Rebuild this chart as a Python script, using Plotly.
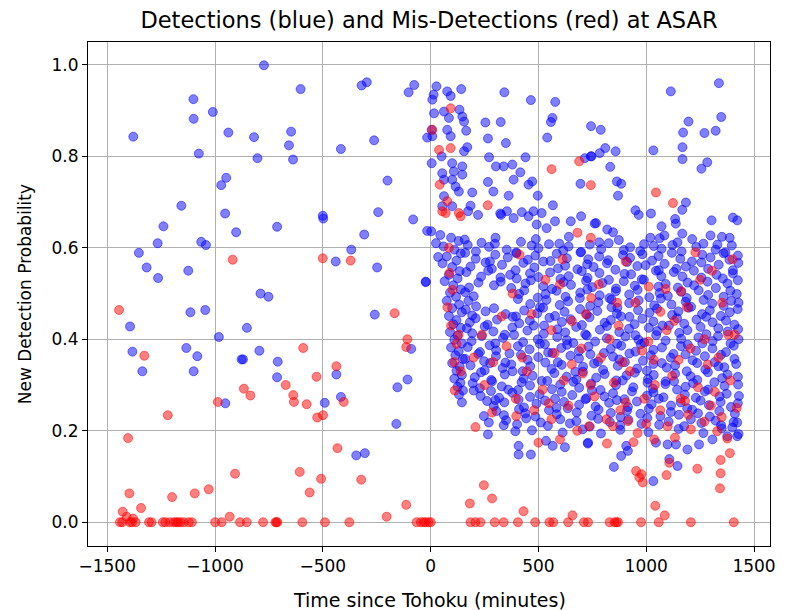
import plotly.graph_objects as go

# ---- detections (blue): (minutes since Tohoku, new detection probability) ----
blue_before = [
    (-773, 0.999), (-603, 0.947), (-1100, 0.925), (-1099, 0.882), (-1010, 0.897),
    (-1379, 0.843), (-938, 0.852), (-819, 0.842), (-647, 0.854), (-657, 0.824),
    (-1075, 0.806), (-803, 0.796), (-638, 0.793), (-320, 0.955), (-296, 0.962),
    (-102, 0.940), (-76, 0.956), (-416, 0.816), (-262, 0.835), (-16, 0.841),
    (-948, 0.753), (-971, 0.737), (-200, 0.747), (-1156, 0.692), (-953, 0.675),
    (-500, 0.670), (-498, 0.664), (-243, 0.678), (-81, 0.662), (-1239, 0.647),
    (-902, 0.634), (-712, 0.646), (-308, 0.629), (-16, 0.637), (-1266, 0.610),
    (-1064, 0.613), (-1042, 0.606), (-1353, 0.589), (-368, 0.596), (-1317, 0.557),
    (-1124, 0.550), (-1264, 0.534), (-440, 0.570), (-248, 0.557), (-23, 0.525),
    (-789, 0.500), (-752, 0.493), (-1394, 0.428), (-1114, 0.459), (-1045, 0.464),
    (-852, 0.425), (-982, 0.405), (-1383, 0.373), (-1337, 0.330), (-1133, 0.381),
    (-1082, 0.363), (-1099, 0.330), (-877, 0.356), (-870, 0.356), (-794, 0.375),
    (-709, 0.351), (-712, 0.317), (-952, 0.260), (-491, 0.261), (-437, 0.323),
    (-416, 0.274), (-259, 0.454), (-90, 0.379), (-154, 0.295), (-107, 0.312),
    (-159, 0.215), (-345, 0.146), (-305, 0.151),
]

blue_upper = [
    (27, 0.953), (8, 0.924), (14, 0.935), (77, 0.942), (93, 0.932), (142, 0.947),
    (342, 0.940), (465, 0.923), (578, 0.919), (16, 0.894), (62, 0.898), (85, 0.884),
    (134, 0.902), (147, 0.887), (155, 0.876), (254, 0.874), (325, 0.875), (565, 0.884),
    (558, 0.875), (744, 0.866), (266, 0.839), (349, 0.829), (541, 0.841), (5, 0.858),
    (8, 0.844), (77, 0.858), (93, 0.844), (165, 0.856), (51, 0.800), (155, 0.811),
    (170, 0.820), (271, 0.798), (440, 0.798), (715, 0.796), (746, 0.800), (695, 0.740),
    (5, 0.785), (54, 0.763), (100, 0.785), (147, 0.778), (108, 0.767), (147, 0.760),
    (303, 0.778), (339, 0.778), (379, 0.782), (416, 0.765), (62, 0.749), (100, 0.749),
    (116, 0.734), (131, 0.723), (193, 0.721), (266, 0.744), (291, 0.723), (362, 0.714),
    (385, 0.749), (454, 0.738), (471, 0.745), (497, 0.714), (567, 0.693), (62, 0.713),
    (100, 0.691), (54, 0.691), (185, 0.692), (220, 0.672), (174, 0.680), (323, 0.675),
    (327, 0.672), (354, 0.680), (385, 0.665), (423, 0.678), (454, 0.669), (477, 0.680),
    (515, 0.676), (492, 0.651), (538, 0.643), (577, 0.658), (650, 0.658), (698, 0.669),
    (761, 0.653), (3, 0.636), (1337, 0.960), (1114, 0.942), (1348, 0.886), (1196, 0.876),
    (1171, 0.852), (1270, 0.851), (1322, 0.856), (789, 0.858), (1168, 0.820), (1033, 0.813),
    (810, 0.818), (784, 0.807), (858, 0.811), (743, 0.800), (1168, 0.794), (1283, 0.787),
    (1256, 0.773), (833, 0.777), (864, 0.745), (884, 0.740), (869, 0.714), (1184, 0.699),
    (1167, 0.683), (950, 0.682), (1022, 0.675), (1134, 0.663), (1137, 0.653), (1071, 0.647),
    (1303, 0.660), (1402, 0.666), (1422, 0.660), (767, 0.654), (819, 0.640), (846, 0.634),
    (1167, 0.631), (1298, 0.627), (1351, 0.624), (1019, 0.622), (1084, 0.627), (965, 0.672),
]

blue_column = [
    (45, 0.628), (95, 0.622), (130, 0.615), (60, 0.603), (110, 0.596), (140, 0.588),
    (75, 0.581), (120, 0.572), (55, 0.566), (100, 0.558), (135, 0.549), (85, 0.541),
    (125, 0.533), (65, 0.527), (105, 0.518), (140, 0.509), (90, 0.502), (118, 0.493),
    (75, 0.484), (132, 0.476), (100, 0.468), (145, 0.459), (85, 0.451), (120, 0.442),
    (105, 0.433), (140, 0.425), (90, 0.416), (125, 0.408), (110, 0.399), (145, 0.391),
    (95, 0.382), (130, 0.374), (115, 0.365), (150, 0.357), (100, 0.348), (135, 0.340),
    (120, 0.331), (145, 0.322), (110, 0.314), (138, 0.305), (125, 0.296), (150, 0.288),
    (132, 0.279), (145, 0.262), (-22, 0.526), (35, 0.58), (25, 0.61),
]

blue_main = [
    (158, .618), (236, .611), (301, .622), (419, .613), (488, .619), (597, .609), (641, .624),
    (782, .612), (873, .617), (990, .608), (1062, .621), (1145, .612), (1213, .619),
    (1330, .607), (1387, .622),
    (172, .606), (210, .592), (271, .602), (298, .609), (353, .596), (397, .590), (469, .605),
    (500, .599), (549, .608), (615, .594), (640, .603), (698, .591), (738, .607), (791, .597),
    (826, .610), (896, .595), (925, .601), (972, .593), (1035, .604), (1071, .598),
    (1122, .606), (1164, .592), (1232, .602), (1265, .609), (1322, .596), (1367, .590),
    (1397, .605),
    (160, .589), (209, .576), (275, .570), (300, .585), (358, .579), (398, .588), (451, .574),
    (486, .583), (556, .571), (585, .587), (632, .577), (695, .590), (731, .575), (782, .581),
    (824, .573), (892, .584), (925, .578), (982, .586), (1027, .572), (1057, .582),
    (1119, .589), (1158, .576), (1212, .570), (1260, .585), (1298, .579), (1359, .588),
    (1386, .574), (1425, .583),
    (185, .559), (255, .568), (284, .554), (331, .563), (394, .551), (430, .567), (481, .557),
    (523, .570), (591, .555), (624, .561), (681, .553), (726, .564), (756, .558), (818, .566),
    (857, .552), (911, .569), (959, .560), (997, .562), (1058, .551), (1085, .565),
    (1140, .554), (1184, .559), (1256, .568), (1287, .554), (1336, .563), (1402, .551),
    (1427, .567),
    (166, .547), (234, .537), (267, .550), (324, .535), (369, .541), (399, .533), (461, .544),
    (500, .536), (554, .546), (602, .532), (640, .538), (701, .549), (728, .534), (783, .545),
    (827, .530), (899, .543), (930, .542), (979, .531), (1045, .550), (1070, .538),
    (1128, .547), (1168, .537), (1221, .550), (1256, .535), (1326, .541), (1355, .533),
    (1402, .544),
    (178, .513), (222, .524), (294, .518), (325, .526), (374, .512), (440, .522), (465, .529),
    (523, .516), (563, .510), (616, .525), (651, .519), (721, .528), (750, .514), (797, .523),
    (860, .511), (896, .527), (947, .517), (989, .530), (1057, .515), (1090, .521),
    (1147, .513), (1192, .524), (1222, .518), (1284, .526), (1323, .512), (1377, .522),
    (1425, .529),
    (160, .503), (200, .494), (410, .499), (434, .507), (497, .491), (533, .499), (584, .506),
    (626, .493), (694, .502), (727, .509), (784, .496), (829, .490), (859, .505), (921, .498),
    (960, .508), (1014, .492), (1062, .501), (1100, .495), (1161, .504), (1188, .490),
    (1243, .507), (1287, .497), (1359, .493), (1390, .506), (1420, .499),
    (175, .484), (211, .472), (405, .488), (462, .477), (507, .470), (537, .486), (599, .475),
    (638, .483), (692, .490), (740, .473), (778, .481), (839, .487), (866, .469), (921, .479),
    (965, .485), (1037, .474), (1068, .489), (1117, .476), (1183, .482), (1208, .471),
    (1266, .486), (1306, .478), (1359, .473), (1394, .484), (1428, .480),
    (163, .465), (193, .452), (255, .461), (294, .468), (348, .455), (396, .450), (434, .463),
    (495, .457), (522, .469), (577, .451), (621, .460), (693, .466), (724, .454), (773, .462),
    (839, .470), (864, .456), (922, .449), (962, .464), (1015, .458), (1050, .467),
    (1120, .453), (1149, .461), (1196, .469), (1259, .455), (1295, .463), (1346, .451),
    (1388, .459), (1424, .466),
    (182, .437), (209, .446), (264, .432), (308, .443), (380, .449), (411, .435), (460, .441),
    (526, .430), (551, .447), (609, .438), (649, .444), (702, .431), (737, .448), (807, .436),
    (836, .442), (883, .450), (946, .433), (982, .445), (1033, .439), (1075, .430),
    (1143, .446), (1176, .434), (1233, .443), (1278, .449), (1308, .437), (1370, .441),
    (1409, .432),
    (168, .424), (193, .413), (251, .428), (291, .417), (344, .410), (379, .426), (449, .419),
    (478, .430), (525, .412), (588, .422), (624, .415), (675, .427), (717, .411), (785, .421),
    (818, .429), (875, .416), (920, .423), (950, .409), (1012, .425), (1051, .418),
    (1105, .430), (1153, .414), (1191, .420), (1252, .427), (1279, .411), (1334, .424),
    (1378, .417), (1426, .422),
    (190, .396), (237, .407), (300, .391), (336, .403), (387, .410), (429, .394), (497, .400),
    (530, .389), (587, .405), (632, .398), (662, .392), (724, .408), (763, .395), (817, .402),
    (865, .390), (903, .406), (964, .399), (991, .393), (1046, .409), (1090, .397),
    (1162, .401), (1193, .388), (1242, .404), (1308, .396), (1333, .407), (1391, .391),
    (1428, .400),
    (172, .383), (229, .372), (274, .387), (304, .376), (366, .369), (405, .385), (459, .378),
    (507, .390), (545, .371), (606, .381), (633, .388), (688, .374), (732, .384), (804, .370),
    (835, .379), (884, .386), (950, .373), (975, .389), (1033, .377), (1073, .382),
    (1126, .368), (1161, .385), (1231, .375), (1260, .391), (1307, .380), (1370, .372),
    (1406, .386),
    (160, .357), (221, .368), (248, .352), (303, .363), (347, .349), (419, .366), (450, .355),
    (499, .361), (565, .370), (590, .350), (648, .364), (688, .358), (741, .367), (776, .351),
    (846, .362), (875, .356), (922, .369), (985, .353), (1021, .365), (1072, .348),
    (1114, .360), (1182, .367), (1215, .354), (1272, .363), (1317, .350), (1347, .366),
    (1409, .357),
    (185, .343), (251, .332), (276, .348), (334, .337), (374, .345), (427, .330), (462, .341),
    (532, .349), (561, .335), (608, .344), (671, .329), (707, .340), (758, .347), (800, .333),
    (868, .342), (901, .350), (958, .336), (1003, .331), (1033, .346), (1095, .338),
    (1134, .343), (1188, .330), (1236, .348), (1274, .334), (1335, .341), (1362, .339),
    (1417, .346),
    (205, .317), (234, .328), (281, .311), (344, .323), (380, .330), (431, .314), (473, .320),
    (541, .309), (574, .326), (631, .318), (676, .312), (706, .329), (768, .316), (807, .324),
    (861, .310), (909, .321), (947, .327), (1008, .313), (1035, .322), (1090, .308),
    (1134, .325), (1206, .319), (1237, .311), (1286, .328), (1352, .315), (1377, .323),
    (1425, .318),
    (195, .304), (228, .293), (285, .308), (330, .297), (360, .290), (422, .306), (461, .299),
    (515, .309), (563, .291), (601, .301), (662, .307), (689, .294), (744, .303), (788, .289),
    (860, .300), (891, .310), (940, .295), (1006, .305), (1031, .292), (1089, .302),
    (1129, .308), (1182, .296), (1217, .304), (1287, .290), (1316, .306), (1363, .298),
    (1426, .301),
    (232, .276), (280, .287), (318, .272), (379, .283), (406, .289), (461, .274), (505, .280),
    (577, .270), (608, .285), (657, .278), (723, .271), (748, .288), (806, .275), (846, .282),
    (899, .269), (934, .286), (1004, .277), (1033, .284), (1080, .273), (1143, .290),
    (1179, .279), (1230, .272), (1272, .286), (1340, .275), (1373, .281), (1430, .276),
    (262, .265), (293, .254), (342, .262), (408, .268), (433, .251), (491, .259), (531, .266),
    (584, .250), (619, .263), (689, .257), (718, .269), (765, .253), (828, .261), (864, .267),
    (915, .252), (957, .264), (1025, .258), (1058, .270), (1115, .255), (1160, .262),
    (1190, .249), (1252, .266), (1291, .256), (1345, .263), (1393, .252), (1425, .260),
    (305, .243), (340, .234), (410, .247), (439, .238), (486, .231), (549, .245), (585, .236),
    (636, .249), (678, .240), (746, .233), (779, .246), (836, .239), (881, .230), (911, .244),
    (973, .237), (1012, .248), (1066, .232), (1114, .241), (1152, .235), (1213, .246),
    (1240, .238), (1295, .231), (1339, .243), (1411, .237),
    (350, .223), (401, .214), (443, .227), (511, .218), (544, .211), (601, .225), (646, .216),
    (676, .221), (738, .209), (777, .226), (831, .219), (879, .212), (917, .224), (978, .215),
    (1005, .228), (1060, .213), (1104, .220), (1176, .210), (1207, .225), (1256, .217),
    (1322, .222), (1347, .212), (1405, .219),
    (470, .201), (612, .196), (705, .203), (790, .194), (880, .202), (1010, .197),
    (1150, .204), (1265, .195), (1350, .205), (1428, .193),
    (408, .167), (408, .148), (465, .148), (266, .192), (566, .167), (623, .164),
    (729, .172), (200, .288), (300, .267), (247, .232), (270, .218), (339, .212),
    (393, .199), (535, .178), (850, .121), (1033, .090), (1107, .138), (1145, .123),
    (1191, .159), (884, .145), (915, .156), (907, .167), (730, .174), (1045, .174),
    (1099, .170), (1138, .170), (1245, .170), (1307, .181), (1376, .188), (1422, .188),
    (1422, .218), (1399, .207),
]

# ---- mis-detections (red) ----
red_before = [
    (-918, 0.574), (-500, 0.577), (-371, 0.572), (-1445, 0.464), (-1328, 0.364),
    (-1219, 0.234), (-1403, 0.184), (-1397, 0.063), (-1428, 0.023), (-1343, 0.031),
    (-1199, 0.055), (-1094, 0.063), (-1029, 0.072), (-907, 0.106), (-932, 0.012),
    (-987, 0.263), (-866, 0.292), (-836, 0.277), (-591, 0.381), (-672, 0.300),
    (-637, 0.278), (-634, 0.263), (-575, 0.258), (-529, 0.318), (-526, 0.229),
    (-499, 0.234), (-437, 0.341), (-403, 0.263), (-432, 0.162), (-607, 0.110),
    (-561, 0.065), (-508, 0.095), (-322, 0.093), (-167, 0.457), (-108, 0.400),
    (-113, 0.383), (-113, 0.038), (-204, 0.012), (-1410, 0.012), (-1380, 0.008),
]

red_zero_time = [
    -1441, -1430, -1395, -1385, -1368, -1306, -1294, -1242, -1230, -1210, -1191,
    -1180, -1171, -1160, -1145, -1122, -1107, -999, -969, -884, -853, -777, -720,
    -715, -711, -595, -490, -377, -65, -45, -32, -23, -9, 1, 185, 208, 231, 297,
    339, 405, 485, 551, 569, 638, 711, 730, 830, 853, 862, 869, 976, 1058, 1207, 1406,
]

red_after = [
    (247, 0.081), (182, 0.041), (285, 0.052), (431, 0.024), (658, 0.015), (208, 0.208),
    (285, 0.240), (397, 0.232), (500, 0.174), (600, 0.181), (953, 0.112), (968, 0.098),
    (984, 0.087), (978, 0.105), (1094, 0.103), (1237, 0.117), (1345, 0.136), (1388, 0.151),
    (1345, 0.107), (1342, 0.074), (1042, 0.036), (1086, 0.015), (1107, 0.130), (818, 0.172),
    (941, 0.175), (846, 0.210), (915, 0.221), (1037, 0.181), (1099, 0.210), (1133, 0.185),
    (1207, 0.203), (1329, 0.199), (1376, 0.183),
    (561, 0.772), (689, 0.789), (743, 0.737), (681, 0.633), (743, 0.622), (265, 0.693),
    (42, 0.738), (39, 0.814), (93, 0.818), (93, 0.905), (8, 0.858), (77, 0.702),
    (131, 0.676), (139, 0.669), (70, 0.676), (54, 0.680), (1045, 0.721), (1124, 0.698),
    (88, 0.545), (102, 0.508), (78, 0.470), (95, 0.430), (120, 0.390), (110, 0.350),
    (130, 0.410), (140, 0.330), (85, 0.600), (112, 0.288),
    (412, 0.585), (612, 0.575), (1228, 0.590), (1305, 0.550), (905, 0.570), (533, 0.530),
    (1012, 0.515), (745, 0.490), (1189, 0.470), (1352, 0.480), (468, 0.455), (655, 0.440),
    (872, 0.430), (1095, 0.420), (1270, 0.400), (1410, 0.410), (238, 0.410), (352, 0.385),
    (575, 0.370), (790, 0.360), (980, 0.375), (1150, 0.355), (1335, 0.360), (290, 0.350),
    (446, 0.330), (618, 0.310), (705, 0.325), (850, 0.305), (925, 0.330), (1040, 0.300),
    (1120, 0.320), (1240, 0.295), (1390, 0.310), (520, 0.290), (760, 0.275), (990, 0.270),
    (1180, 0.265), (1300, 0.255), (395, 0.270), (640, 0.255), (880, 0.245), (1065, 0.245),
    (1350, 0.230), (560, 0.225), (735, 0.210), (1000, 0.215), (1270, 0.220), (480, 0.245),
    (1205, 0.380), (830, 0.400), (560, 0.420), (720, 0.455), (950, 0.480), (1090, 0.510),
    (1250, 0.530), (380, 0.500), (200, 0.360), (330, 0.450), (1160, 0.270), (680, 0.200),
    (960, 0.195), (815, 0.225), (1420, 0.250), (1380, 0.410), (600, 0.520), (1400, 0.575),
    (250, 0.300), (1130, 0.440), (780, 0.520), (890, 0.350), (1035, 0.355), (700, 0.380),
    (1285, 0.345), (1010, 0.395), (655, 0.345), (1195, 0.235), (905, 0.262), (742, 0.300),
    (1318, 0.285), (548, 0.260), (1066, 0.460), (425, 0.360), (1163, 0.505), (865, 0.480),
]

blue_pts = blue_before + blue_upper + blue_column + blue_main
red_pts = red_before + [(t, 0.0) for t in red_zero_time] + red_after

FONT = "DejaVu Sans"


def scatter(points, rgb):
    fill = f"rgba({rgb},0.5)"
    return go.Scatter(
        x=[p[0] for p in points],
        y=[p[1] for p in points],
        mode="markers",
        marker=dict(size=9, color=fill, line=dict(color=fill, width=1)),
        showlegend=False,
        hoverinfo="skip",
    )


fig = go.Figure()
fig.add_trace(scatter(blue_pts, "0,0,255"))
fig.add_trace(scatter(red_pts, "255,0,0"))

axis_common = dict(
    showline=True, linecolor="black", linewidth=1, mirror=True,
    ticks="outside", ticklen=5, tickwidth=1, tickcolor="black",
    showgrid=True, gridcolor="#b0b0b0", gridwidth=1, zeroline=False,
    tickfont=dict(family=FONT, size=17, color="black"),
)

fig.update_layout(
    width=788, height=610,
    margin=dict(l=88, r=15, t=42, b=64),
    paper_bgcolor="white", plot_bgcolor="white",
    font=dict(family=FONT, color="black"),
    title=dict(
        text="Detections (blue) and Mis-Detections (red) at ASAR",
        x=0.5, xref="paper", y=1 - 20 / 610, yref="container",
        xanchor="center", yanchor="middle",
        font=dict(family=FONT, size=22.5, color="black"),
    ),
    xaxis=dict(range=[-1589, 1574], tickvals=[-1500, -1000, -500, 0, 500, 1000, 1500], **axis_common),
    yaxis=dict(range=[-0.052, 1.05], tickvals=[0.0, 0.2, 0.4, 0.6, 0.8, 1.0], tickformat=".1f", **axis_common),
    annotations=[
        dict(text="Time since Tohoku (minutes)", xref="paper", yref="paper",
             x=0.5, y=(546 - 600) / 504, xanchor="center", yanchor="middle",
             showarrow=False, font=dict(family=FONT, size=19, color="black")),
        dict(text="New Detection Probability", xref="paper", yref="paper",
             x=(25 - 88) / 685, y=0.5, xanchor="center", yanchor="middle", textangle=-90,
             showarrow=False, font=dict(family=FONT, size=17, color="black")),
    ],
)

fig.write_html("out.html")
